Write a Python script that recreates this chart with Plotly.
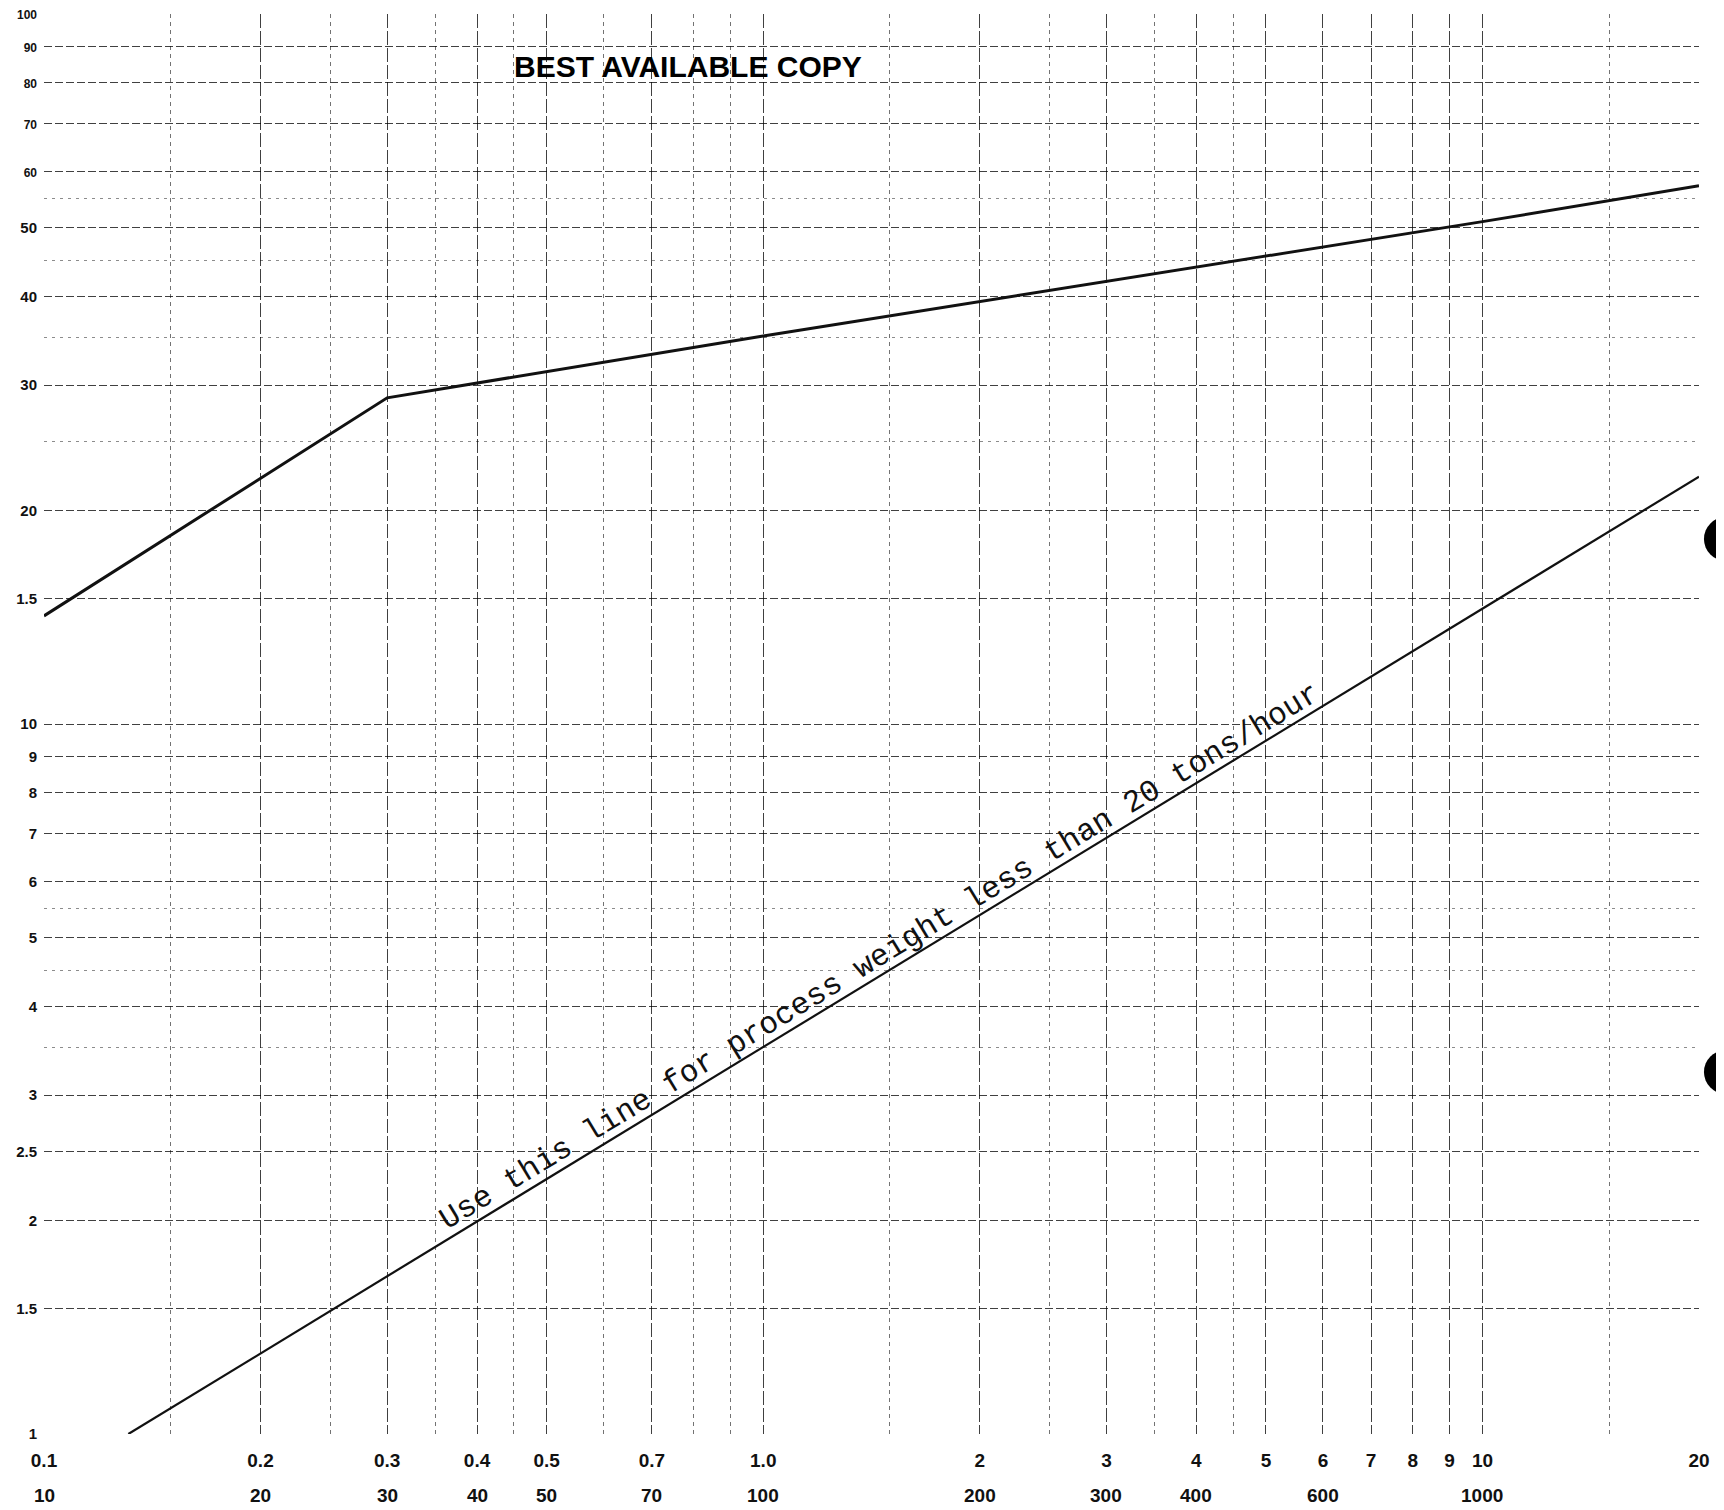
import math

import plotly.graph_objects as go

# curves
upper_x = [0.1, 0.3, 1.0, 10, 20]
upper_y = [14.2, 28.8, 35.2, 51.0, 57.3]

lower_x = [0.131, 20]
lower_y = [1.0, 22.3]

# x axis: first row of labels on the ticks, second row as annotations
x_ticks = [0.1, 0.2, 0.3, 0.4, 0.5, 0.7, 1.0, 2, 3, 4, 5, 6, 7, 8, 9, 10, 20]
x_labels = ["0.1", "0.2", "0.3", "0.4", "0.5", "0.7", "1.0", "2", "3", "4",
            "5", "6", "7", "8", "9", "10", "20"]
x_minor = [0.15, 0.25, 0.35, 0.45, 0.6, 0.8, 0.9, 1.5, 2.5, 3.5, 4.5, 15]

x2_ticks = [0.1, 0.2, 0.3, 0.4, 0.5, 0.7, 1.0, 2, 3, 4, 6, 10]
x2_labels = ["10", "20", "30", "40", "50", "70", "100", "200", "300", "400",
             "600", "1000"]

y_ticks = [1, 1.5, 2, 2.5, 3, 4, 5, 6, 7, 8, 9, 10, 15, 20, 30, 40, 50, 60,
           70, 80, 90, 100]
y_labels = ["1", "1.5", "2", "2.5", "3", "4", "5", "6", "7", "8", "9", "10",
            "1.5", "20", "30", "40", "50", "60", "70", "80", "90", "100"]
y_minor = [3.5, 4.5, 5.5, 25, 35, 45, 55]

NOTE = "Use this line for process weight less than 20 tons/hour"
TITLE = "BEST AVAILABLE COPY"

INK = "#111111"
LABEL_FONT = dict(family="Liberation Sans, Arial, sans-serif", size=19,
                  color=INK, weight="bold")

# the top labels on the sheet are written smaller
y_text = [f'<span style="font-size:12px">{t}</span>' if v >= 60 else t
          for v, t in zip(y_ticks, y_labels)]

fig = go.Figure()
fig.add_trace(go.Scatter(x=upper_x, y=upper_y, mode="lines",
                         line=dict(color=INK, width=3), hoverinfo="skip"))
fig.add_trace(go.Scatter(x=lower_x, y=lower_y, mode="lines",
                         line=dict(color=INK, width=2.2), hoverinfo="skip"))

fig.update_xaxes(
    type="log", range=[-1, math.log10(20)], automargin=False,
    tickmode="array", tickvals=x_ticks, ticktext=x_labels,
    tickfont=LABEL_FONT, ticks="", ticklabelstandoff=13,
    ticklabeloverflow="allow",
    showline=False, zeroline=False,
    showgrid=True, gridcolor="rgba(0,0,0,0.75)", gridwidth=1.2,
    griddash="14px,3px",
    minor=dict(tickvals=x_minor, showgrid=True, gridcolor="rgba(0,0,0,0.55)",
               gridwidth=1, griddash="4px,4px", ticks=""),
)
fig.update_yaxes(
    type="log", range=[0, 2], automargin=False,
    tickmode="array", tickvals=y_ticks, ticktext=y_text,
    tickfont=dict(LABEL_FONT, size=15), ticks="", ticklabelstandoff=6,
    ticklabeloverflow="allow",
    showline=False, zeroline=False,
    showgrid=True, gridcolor="rgba(0,0,0,0.75)", gridwidth=1.2,
    griddash="8px,3px",
    minor=dict(tickvals=y_minor, showgrid=True, gridcolor="rgba(0,0,0,0.45)",
               gridwidth=1, griddash="3px,5px", ticks=""),
)

# second row of x labels (hundreds)
for v, lab in zip(x2_ticks, x2_labels):
    fig.add_annotation(x=math.log10(v), xref="x", y=0, yref="paper",
                       yshift=-61, text=lab, showarrow=False,
                       font=LABEL_FONT, yanchor="middle")

# label written along the lower line
fig.add_annotation(x=0.1623, y=0.673, xref="x", yref="y", text=NOTE,
                   textangle=-31.3, showarrow=False,
                   font=dict(family="Liberation Mono, Courier New, monospace",
                             size=31, color=INK))

fig.add_annotation(x=0.389, y=0.963, xref="paper", yref="paper", text=TITLE,
                   showarrow=False, yanchor="middle",
                   font=dict(family="Liberation Sans, Arial", size=30,
                             color="black", weight="bold"))

# punch holes on the right edge of the sheet
for y0, y1 in ((0.6148, 0.6458), (0.2394, 0.2704)):
    fig.add_shape(type="circle", xref="paper", yref="paper",
                  x0=1.003, x1=1.0296, y0=y0, y1=y1, layer="above",
                  fillcolor="black", line=dict(width=0))

fig.update_layout(
    width=1724, height=1510,
    margin=dict(l=36, r=33, t=6, b=84),
    paper_bgcolor="white", plot_bgcolor="white",
    showlegend=False,
)

fig.write_html("out.html")
